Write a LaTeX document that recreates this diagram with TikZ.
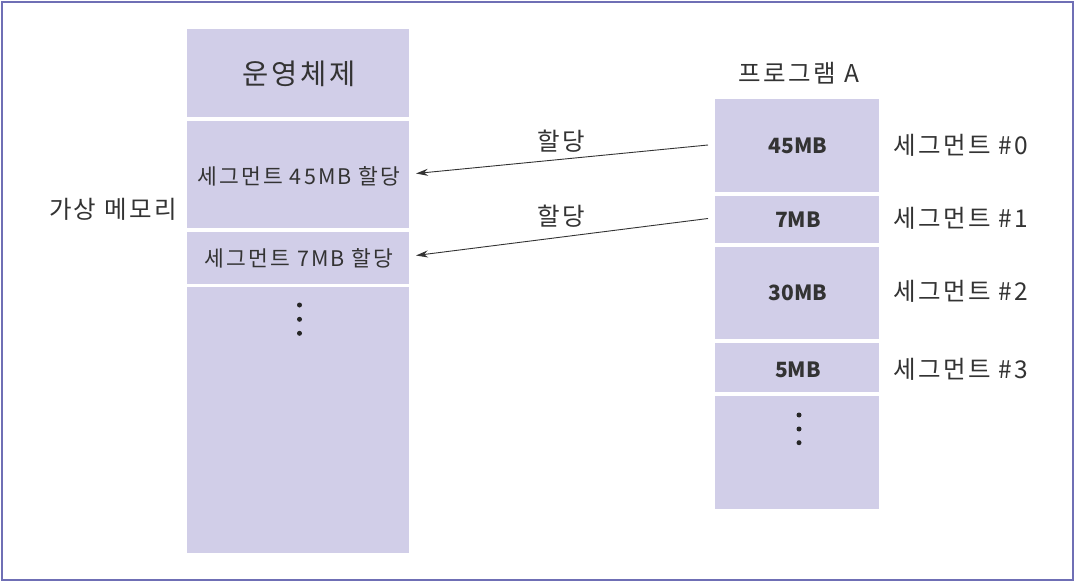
\documentclass[tikz,border=0pt]{standalone}
\usepackage{fontspec}
\setmainfont{Noto Sans CJK KR}
\newfontfamily\spaced[LetterSpace=10]{Noto Sans CJK KR}
\usetikzlibrary{arrows.meta}
\definecolor{blockfill}{HTML}{D1CEE8}
\definecolor{framecol}{HTML}{6F6FB5}
\definecolor{txt}{HTML}{333333}
\tikzset{
  memblock/.style={fill=blockfill, draw=none, inner sep=0pt, text=txt},
  lbl/.style={text=txt, inner sep=0pt},
  alloc/.style={draw=txt, line width=0.9pt, -{Stealth[length=12pt,width=7pt]}},
  dot/.style={circle, fill=black!85, inner sep=0pt, minimum size=5pt}
}
\begin{document}
\begin{tikzpicture}[x=1pt,y=-1pt]
\useasboundingbox (0,0) rectangle (1076,583);
\draw[framecol, line width=2pt] (2,2) rectangle (1073,580);
% left column
\node[memblock, minimum width=222pt, minimum height=88pt] (os) at (298,73.5) {};
\node[lbl, font=\spaced\fontsize{28.5}{32}\selectfont] (ost) at (299.5,74) {운영체제};
\node[memblock, minimum width=222pt, minimum height=106pt] (s45) at (298,174.5) {};
\node[lbl, font=\spaced\fontsize{21.5}{24}\selectfont] at (299,176) {세그먼트 45MB 할당};
\node[memblock, minimum width=222pt, minimum height=52pt] (s7) at (298,257.5) {};
\node[lbl, font=\spaced\fontsize{21.5}{24}\selectfont] at (299,258) {세그먼트 7MB 할당};
\node[memblock, minimum width=222pt, minimum height=266pt] (lrest) at (298,420) {};
\node[dot] (ld1) at (299.5,305) {};
\node[dot] (ld2) at (299.5,319.3) {};
\node[dot] (ld3) at (299.5,333.3) {};
\node[lbl, font=\spaced\fontsize{24.5}{28}\selectfont] (vm) at (113,209) {가상 메모리};
% right column
\node[lbl, font=\spaced\fontsize{24.5}{28}\selectfont] (pa) at (799,73) {프로그램 A};
\node[memblock, minimum width=164pt, minimum height=93pt] (r45) at (797,145.5) {};
\node[lbl, font=\fontsize{21}{24}\selectfont\bfseries] at (798,146) {45MB};
\node[memblock, minimum width=164pt, minimum height=47pt] (r7) at (797,219.5) {};
\node[lbl, font=\fontsize{21}{24}\selectfont\bfseries] at (798,219.5) {7MB};
\node[memblock, minimum width=164pt, minimum height=92pt] (r30) at (797,293) {};
\node[lbl, font=\fontsize{21}{24}\selectfont\bfseries] at (798,292.5) {30MB};
\node[memblock, minimum width=164pt, minimum height=49pt] (r5) at (797,367.5) {};
\node[lbl, font=\fontsize{21}{24}\selectfont\bfseries] at (798,369.5) {5MB};
\node[memblock, minimum width=164pt, minimum height=113pt] (rrest) at (797,452.5) {};
\node[dot] (rd1) at (799,415) {};
\node[dot] (rd2) at (799,429) {};
\node[dot] (rd3) at (799,442.7) {};
% segment labels
\node[lbl, anchor=west, font=\spaced\fontsize{24.5}{28}\selectfont] (sg0) at (893,145) {세그먼트 \#0};
\node[lbl, anchor=west, font=\spaced\fontsize{24.5}{28}\selectfont] (sg1) at (893,218) {세그먼트 \#1};
\node[lbl, anchor=west, font=\spaced\fontsize{24.5}{28}\selectfont] (sg2) at (893,291) {세그먼트 \#2};
\node[lbl, anchor=west, font=\spaced\fontsize{24.5}{28}\selectfont] (sg3) at (893,369) {세그먼트 \#3};
% arrows
\coordinate (a1s) at (708,145);
\coordinate (a1e) at (416,173.5);
\coordinate (a2s) at (708,218.5);
\coordinate (a2e) at (416,255.5);
\draw[alloc] (a1s) -- (a1e);
\draw[alloc] (a2s) -- (a2e);
\node[lbl, font=\spaced\fontsize{24.5}{28}\selectfont] (h1) at (561,141) {할당};
\node[lbl, font=\spaced\fontsize{24.5}{28}\selectfont] (h2) at (561,216.5) {할당};
\end{tikzpicture}
\end{document}
